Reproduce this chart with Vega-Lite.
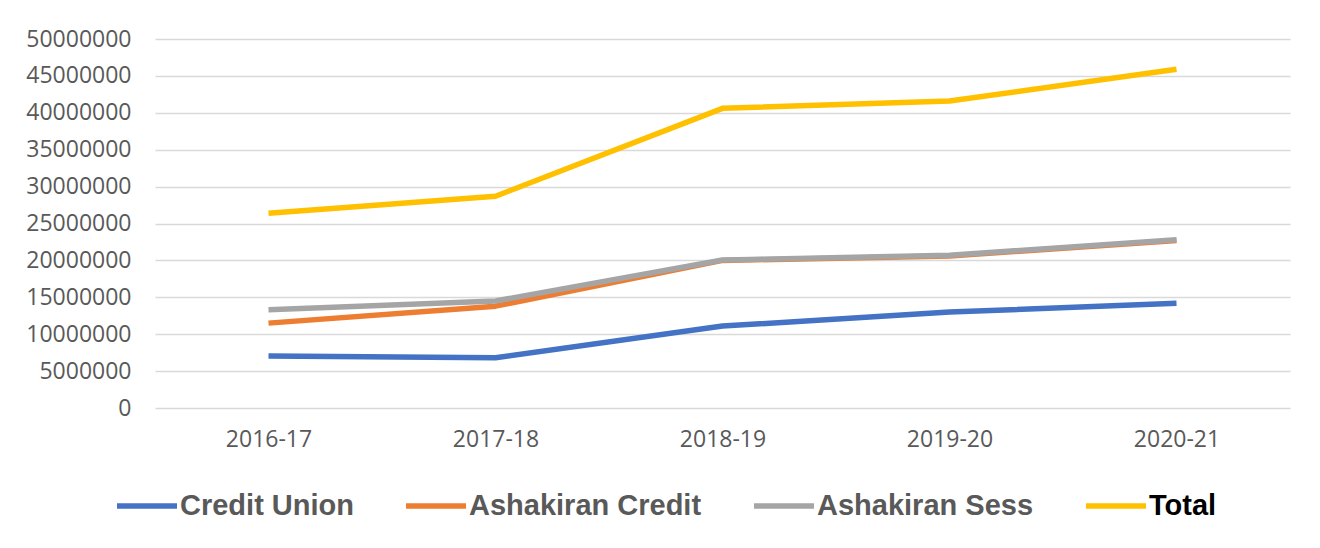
{
  "$schema": "https://vega.github.io/schema/vega-lite/v6.json",
  "autosize": {"type": "none"},
  "width": 1135,
  "height": 369,
  "padding": {"left": 155, "top": 39, "right": 30, "bottom": 140},
  "background": "white",
  "config": {"view": {"stroke": null}},
  "data": {
    "values": [
      {"year": "2016-17", "series": "Credit Union", "value": 7050000},
      {"year": "2017-18", "series": "Credit Union", "value": 6800000},
      {"year": "2018-19", "series": "Credit Union", "value": 11100000},
      {"year": "2019-20", "series": "Credit Union", "value": 13000000},
      {"year": "2020-21", "series": "Credit Union", "value": 14200000},
      {"year": "2016-17", "series": "Ashakiran Credit", "value": 11500000},
      {"year": "2017-18", "series": "Ashakiran Credit", "value": 13800000},
      {"year": "2018-19", "series": "Ashakiran Credit", "value": 20000000},
      {"year": "2019-20", "series": "Ashakiran Credit", "value": 20600000},
      {"year": "2020-21", "series": "Ashakiran Credit", "value": 22700000},
      {"year": "2016-17", "series": "Ashakiran Sess", "value": 13300000},
      {"year": "2017-18", "series": "Ashakiran Sess", "value": 14500000},
      {"year": "2018-19", "series": "Ashakiran Sess", "value": 20050000},
      {"year": "2019-20", "series": "Ashakiran Sess", "value": 20700000},
      {"year": "2020-21", "series": "Ashakiran Sess", "value": 22800000},
      {"year": "2016-17", "series": "Total", "value": 26400000},
      {"year": "2017-18", "series": "Total", "value": 28700000},
      {"year": "2018-19", "series": "Total", "value": 40600000},
      {"year": "2019-20", "series": "Total", "value": 41600000},
      {"year": "2020-21", "series": "Total", "value": 45900000}
    ]
  },
  "mark": {"type": "line", "strokeWidth": 5.5, "strokeCap": "butt", "strokeJoin": "round"},
  "encoding": {
    "x": {
      "field": "year", "type": "ordinal", "sort": null,
      "scale": {"type": "point", "padding": 0.5},
      "axis": {
        "title": null, "labelAngle": 0, "ticks": false, "domain": false, "grid": false,
        "labelFont": "Open Sans", "labelFontSize": 23, "labelColor": "#595959", "labelPadding": 20
      }
    },
    "y": {
      "field": "value", "type": "quantitative",
      "scale": {"domain": [0, 50000000], "nice": false},
      "axis": {
        "title": null, "values": [0, 5000000, 10000000, 15000000, 20000000, 25000000, 30000000, 35000000, 40000000, 45000000, 50000000],
        "format": "d", "ticks": false, "domain": false,
        "gridColor": "#d9d9d9", "gridWidth": 1.5,
        "labelFont": "Open Sans", "labelFontSize": 23, "labelColor": "#595959", "labelPadding": 24
      }
    },
    "color": {
      "field": "series", "type": "nominal",
      "scale": {
        "domain": ["Credit Union", "Ashakiran Credit", "Ashakiran Sess", "Total"],
        "range": ["#4472C4", "#ED7D31", "#A5A5A5", "#FFC000"]
      },
      "legend": {
        "title": null, "orient": "none", "legendX": -41, "legendY": 434,
        "direction": "horizontal", "columns": 4,
        "symbolType": "stroke", "symbolSize": 3600, "symbolStrokeWidth": 5.5,
        "labelFont": "Liberation Sans", "labelFontWeight": "bold", "labelFontSize": 29,
        "labelColor": "#595959", "labelOffset": 0, "columnPadding": 41,
        "labelLimit": 400,
        "encode": {"labels": {"update": {"fill": {"signal": "datum.label === 'Total' ? '#000000' : '#595959'"}}}}
      }
    }
  }
}
